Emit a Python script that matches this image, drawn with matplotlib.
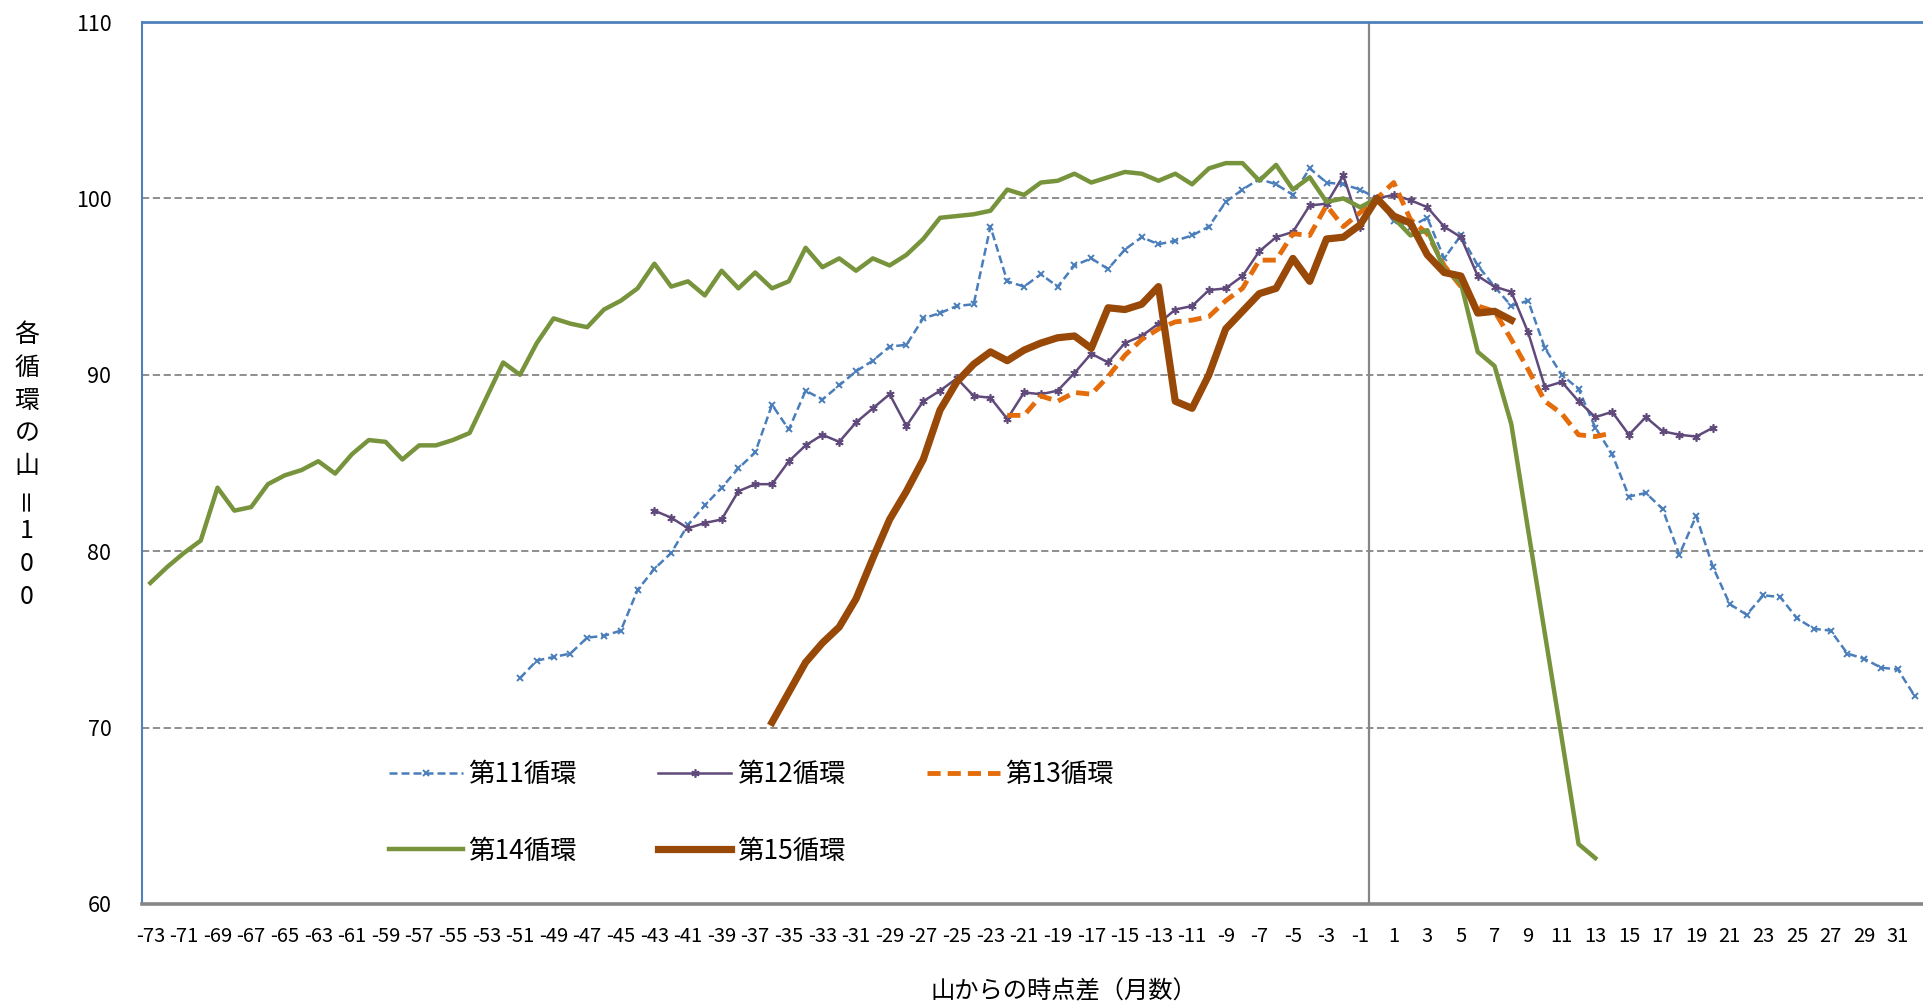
import numpy as np
import matplotlib as mpl
mpl.use('Agg')
import matplotlib.pyplot as plt

plt.rcParams['font.family'] = ['Noto Sans CJK JP', 'DejaVu Sans']
plt.rcParams['axes.unicode_minus'] = False

# months from peak, one value per month; each series starts at its own month
start_11 = -51
cycle_11 = [72.8, 73.8, 74.0, 74.2, 75.1, 75.2, 75.5, 77.8, 79.0, 79.9,
            81.5, 82.6, 83.6, 84.7, 85.6, 88.3, 86.9, 89.1, 88.6, 89.4,
            90.2, 90.8, 91.6, 91.7, 93.2, 93.5, 93.9, 94.0, 98.4, 95.3,
            95.0, 95.7, 95.0, 96.2, 96.6, 96.0, 97.1, 97.8, 97.4, 97.6,
            97.9, 98.4, 99.8, 100.5, 101.1, 100.8, 100.2, 101.7, 100.9, 100.8,
            100.5, 100.0, 98.7, 98.4, 98.9, 96.6, 97.9, 96.2, 95.0, 93.9,
            94.2, 91.5, 90.0, 89.2, 87.0, 85.5, 83.1, 83.3, 82.4, 79.8,
            82.0, 79.1, 77.0, 76.4, 77.5, 77.4, 76.2, 75.6, 75.5, 74.2,
            73.9, 73.4, 73.3, 71.8]

start_12 = -43
cycle_12 = [82.3, 81.9, 81.3, 81.6, 81.8, 83.4, 83.8, 83.8, 85.1, 86.0,
            86.6, 86.2, 87.3, 88.1, 88.9, 87.1, 88.5, 89.1, 89.8, 88.8,
            88.7, 87.5, 89.0, 88.9, 89.1, 90.1, 91.2, 90.7, 91.8, 92.2,
            92.9, 93.7, 93.9, 94.8, 94.9, 95.6, 97.0, 97.8, 98.1, 99.6,
            99.7, 101.3, 98.4, 100.0, 100.2, 99.9, 99.5, 98.4, 97.8, 95.6,
            95.0, 94.7, 92.4, 89.3, 89.6, 88.5, 87.6, 87.9, 86.6, 87.6,
            86.8, 86.6, 86.5, 87.0]

start_13 = -22
cycle_13 = [87.7, 87.7, 88.8, 88.5, 89.0, 88.9, 89.9, 91.1, 92.0, 92.6,
            93.0, 93.1, 93.3, 94.2, 94.9, 96.5, 96.5, 98.0, 97.9, 99.6,
            98.4, 99.2, 100.0, 100.9, 98.8, 98.0, 96.2, 95.0, 93.9, 93.6,
            92.0, 90.3, 88.5, 87.8, 86.6, 86.5, 86.7]

start_14 = -73
cycle_14 = [78.2, 79.1, 79.9, 80.6, 83.6, 82.3, 82.5, 83.8, 84.3, 84.6,
            85.1, 84.4, 85.5, 86.3, 86.2, 85.2, 86.0, 86.0, 86.3, 86.7,
            88.7, 90.7, 90.0, 91.8, 93.2, 92.9, 92.7, 93.7, 94.2, 94.9,
            96.3, 95.0, 95.3, 94.5, 95.9, 94.9, 95.8, 94.9, 95.3, 97.2,
            96.1, 96.6, 95.9, 96.6, 96.2, 96.8, 97.7, 98.9, 99.0, 99.1,
            99.3, 100.5, 100.2, 100.9, 101.0, 101.4, 100.9, 101.2, 101.5, 101.4,
            101.0, 101.4, 100.8, 101.7, 102.0, 102.0, 101.0, 101.9, 100.5, 101.2,
            99.8, 100.0, 99.5, 100.0, 98.9, 97.9, 98.2, 96.0, 95.2, 91.3,
            90.5, 87.2, 81.2, 75.3, 69.4, 63.4, 62.6]

start_15 = -36
cycle_15 = [70.3, 72.0, 73.7, 74.8, 75.7, 77.3, 79.6, 81.8, 83.4, 85.2,
            88.0, 89.6, 90.6, 91.3, 90.8, 91.4, 91.8, 92.1, 92.2, 91.5,
            93.8, 93.7, 94.0, 95.0, 88.5, 88.1, 90.0, 92.6, 93.6, 94.6,
            94.9, 96.6, 95.3, 97.7, 97.8, 98.5, 100.0, 99.0, 98.6, 96.8,
            95.8, 95.6, 93.5, 93.6, 93.1]

labels = ['第11循環', '第12循環', '第13循環', '第14循環', '第15循環']
month_first, month_last = -73, 32

fig = plt.figure(figsize=(19.23, 10.05), dpi=100)
ax = fig.add_axes([0.0738, 0.1005, 0.9262, 0.8776])


def months(start, vals):
    return np.arange(start, start + len(vals))


h11, = ax.plot(months(start_11, cycle_11), cycle_11, color='#4A7EBB', lw=1.8,
               dashes=(3.2, 1.6), marker='x', ms=4, mew=1.4, label=labels[0])
h12, = ax.plot(months(start_12, cycle_12), cycle_12, color='#604A7B', lw=1.8,
               marker=(6, 2, 0), ms=6, mew=1.2, label=labels[1])
h13, = ax.plot(months(start_13, cycle_13), cycle_13, color='#E46C0A', lw=3.5,
               dashes=(2.7, 1.45), label=labels[2])
h14, = ax.plot(months(start_14, cycle_14), cycle_14, color='#77933C', lw=3.2,
               label=labels[3])
h15, = ax.plot(months(start_15, cycle_15), cycle_15, color='#984807', lw=5.2,
               label=labels[4])

ax.set_xlim(month_first - 0.5, month_last + 0.5)
ax.set_ylim(60, 110)
ax.set_yticks(np.arange(60, 111, 10))
ax.set_xticks(np.arange(month_first, month_last + 1, 2))
ax.tick_params(axis='y', length=0, pad=22, labelsize=15.5)
ax.tick_params(axis='x', length=0, pad=16, labelsize=14.5)

ax.yaxis.grid(True, color='#868686', lw=1.3, linestyle=(0, (4, 2)))
ax.set_axisbelow(True)
ax.axvline(-0.5, color='#868686', lw=1.6, zorder=1)

ax.spines['right'].set_visible(False)
ax.spines['left'].set_color('#4F81BD')
ax.spines['left'].set_linewidth(1.5)
ax.spines['top'].set_color('#4F81BD')
ax.spines['top'].set_linewidth(2)
ax.spines['bottom'].set_color('#868686')
ax.spines['bottom'].set_linewidth(2.6)

# legend filled column-wise, so reorder to read row-wise
ax.legend(handles=[h11, h14, h12, h15, h13], ncol=3, frameon=False,
          loc='upper left', bbox_to_anchor=(0.139, 0.162), borderpad=0,
          borderaxespad=0, handlelength=2.77, handletextpad=0.2,
          columnspacing=3.1, labelspacing=1.88, fontsize=19)

# vertical y-axis title, one character per line
ytitle = '各循環の山＝100'
for i, ch in enumerate(ytitle):
    fig.text(0.014, 1 - (335 + i * 32.75) / 1005, ch, ha='center', va='center',
             fontsize=18, rotation=90 if ch == '＝' else 0)

fig.text(0.553, 0.0135, '山からの時点差（月数）', ha='center', va='center', fontsize=17.5)

plt.savefig('out.png', dpi=100)
